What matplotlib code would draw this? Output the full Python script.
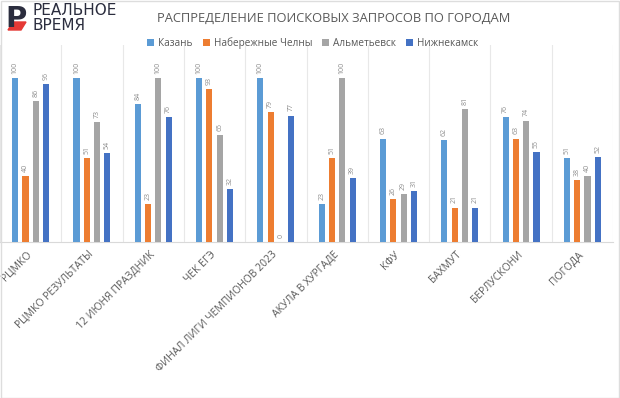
import matplotlib.pyplot as plt
import numpy as np
from matplotlib.patches import Polygon, Rectangle

categories = ['РЦМКО', 'РЦМКО РЕЗУЛЬТАТЫ', '12 ИЮНЯ ПРАЗДНИК', 'ЧЕК ЕГЭ',
              'ФИНАЛ ЛИГИ ЧЕМПИОНОВ 2023', 'АКУЛА В ХУРГАДЕ', 'КФУ', 'БАХМУТ',
              'БЕРЛУСКОНИ', 'ПОГОДА']
kazan = [100, 100, 84, 100, 100, 23, 63, 62, 76, 51]
chelny = [40, 51, 23, 93, 79, 51, 26, 21, 63, 38]
almetyevsk = [86, 73, 100, 65, 0, 100, 29, 81, 74, 40]
nizhnekamsk = [96, 54, 76, 32, 77, 39, 31, 21, 55, 52]
series_names = ['Казань', 'Набережные Челны', 'Альметьевск', 'Нижнекамск']
colors = ['#5B9BD5', '#ED7D31', '#A5A5A5', '#4472C4']
title = 'РАСПРЕДЕЛЕНИЕ ПОИСКОВЫХ ЗАПРОСОВ ПО ГОРОДАМ'

W, H = 620, 398
plt.rcParams['font.family'] = ['Open Sans', 'DejaVu Sans']
fig = plt.figure(figsize=(W / 100, H / 100), dpi=100)

ax = fig.add_axes([0 / W, (H - 242) / H, 613 / W, (242 - 45) / H])
x = np.arange(len(categories))
offsets = np.array([-1.5, -0.5, 0.5, 1.5]) * 0.168
all_series = [kazan, chelny, almetyevsk, nizhnekamsk]

for vals, off, c, name in zip(all_series, offsets, colors, series_names):
    ax.bar(x + off, vals, width=0.1, color=c, label=name, zorder=3)
    for xi, v in zip(x + off, vals):
        ax.text(xi, v + 2.5, str(v), rotation=90, ha='center', va='bottom',
                fontsize=5, color='#8c8c8c')

for k in range(-1, len(categories)):
    ax.axvline(k + 0.5, color='#E8E8E8', lw=0.8, zorder=1)

ax.set_xlim(-0.5, len(categories) - 0.5)
ax.set_ylim(0, 120)
for s in ['top', 'right', 'left']:
    ax.spines[s].set_visible(False)
ax.spines['bottom'].set_color('#D9D9D9')
ax.set_yticks([])
ax.set_xticks(x)
ax.set_xticklabels(categories, rotation=45, ha='right', va='center',
                   rotation_mode='anchor', fontsize=7.5, color='#595959')
ax.tick_params(axis='x', length=0, pad=8)

fig.text(334 / W, 1 - 18 / H, title, ha='center', va='center', fontsize=9.3,
         color='#595959')

fig.legend(loc='center', bbox_to_anchor=(313 / W, 1 - 43 / H), ncol=4,
           frameon=False, fontsize=7.2, handlelength=0.7, handleheight=0.7,
           handletextpad=0.4, columnspacing=1.0, labelcolor='#595959')

# logo
dark = '#2B2D3E'
fig.text(5 / W, 1 - 19 / H, 'Р', fontsize=21, fontweight='bold', color=dark,
         ha='left', va='center', family='DejaVu Sans')
fig.patches.append(Polygon([(8 / W, 1 - 30 / H), (13 / W, 1 - 22 / H),
                            (26 / W, 1 - 22 / H), (21 / W, 1 - 30 / H)],
                           closed=True, color='#E53935', transform=fig.transFigure))
fig.text(32 / W, 1 - 18 / H, 'РЕАЛЬНОЕ\nВРЕМЯ', fontsize=11, color=dark,
         ha='left', va='center', linespacing=0.95, family='DejaVu Sans')

fig.patches.append(Rectangle((0.5 / W, 0.5 / H), (W - 2) / W, (H - 1.5) / H,
                             fill=False, edgecolor='#DDDDDD', lw=1,
                             transform=fig.transFigure))

fig.savefig('out.png', dpi=100)
